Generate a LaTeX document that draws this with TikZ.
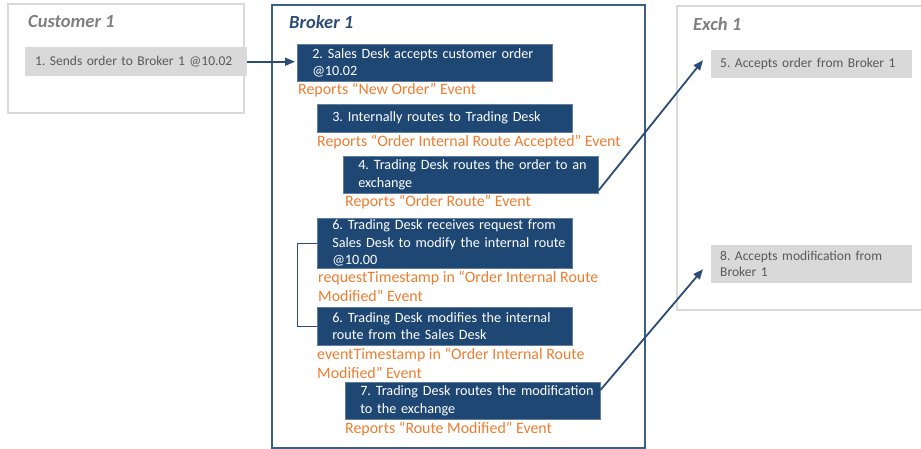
\documentclass[tikz,border=0pt]{standalone}
\usepackage{fontspec}
\setmainfont{Carlito}
\usepackage{tikz}
\usetikzlibrary{arrows.meta,positioning}

\definecolor{navyfill}{RGB}{31,71,115}
\definecolor{navyline}{RGB}{42,76,118}
\definecolor{greyfill}{RGB}{217,217,217}
\definecolor{greytext}{RGB}{89,89,89}
\definecolor{greytitle}{RGB}{127,127,127}
\definecolor{evtorange}{RGB}{237,125,49}

\begin{document}
\begin{tikzpicture}[x=1pt, y=-1pt,
  lane/.style={draw=greyfill, line width=1.5pt},         % outer party boxes
  title/.style={font=\bfseries\itshape\fontsize{18.5}{22}\selectfont,
                anchor=west, inner sep=0pt},
  desk/.style={draw=navyfill!70!white, line width=0.5pt, fill=navyfill,
               text=white, anchor=north west, align=left,
               font=\frenchspacing\fontsize{14.2}{17.5}\selectfont,
               inner xsep=5pt, inner ysep=0pt, text width=245pt,
               execute at begin node={\leftskip=10pt\hyphenpenalty=10000}},
  venue/.style={fill=greyfill, text=greytext, anchor=north west, align=left,
                font=\frenchspacing\fontsize{13.5}{16}\selectfont,
                inner xsep=10pt, inner ysep=0pt},
  event/.style={text=evtorange, anchor=west, align=left, inner sep=0pt,
                font=\frenchspacing\fontsize{15.9}{19}\selectfont},
  link/.style={draw=navyline, line width=1.8pt},
  arrow/.style={link, -{Triangle[length=10pt,width=8pt]}},
]
  \useasboundingbox (0,0) rectangle (921,449);

  % the three parties
  \draw[lane] (8,4) rectangle (244,113);
  \draw[navyline!90!white, line width=2pt] (272,5) rectangle (645,448);
  \draw[lane] (677,6) rectangle (935,310);
  \node[title, text=greytitle] (cust) at (28,22) {Customer 1};
  \node[title, text=navyline] (brok) at (289,22) {Broker 1};
  \node[title, text=greytitle] (exch) at (693,24) {Exch 1};

  % customer
  \node[venue, text width=202pt, minimum height=29pt] (n1) at (25,47)
    {1. Sends order to Broker 1 @10.02};

  % broker
  \node[desk, minimum height=37pt] (n2) at (297,44)
    {2. Sales Desk accepts customer order\\@10.02};
  \node[event] (e2) at (298,90) {Reports “New Order” Event};
  \node[desk, minimum height=28pt] (n3) at (317,104)
    {3. Internally routes to Trading Desk};
  \node[event] (e3) at (317,142) {Reports “Order Internal Route Accepted” Event};
  \node[desk, minimum height=37pt] (n4) at (343,156)
    {4. Trading Desk routes the order to an\\exchange};
  \node[event] (e4) at (345,202) {Reports “Order Route” Event};
  \node[desk, minimum height=50pt] (n6a) at (317,218)
    {6. Trading Desk receives request from\\Sales Desk to modify the internal route\\@10.00};
  \node[event] (e6a) at (318,286.5)
    {requestTimestamp in “Order Internal Route\\Modified” Event};
  \node[desk, minimum height=38pt] (n6b) at (317,307)
    {6. Trading Desk modifies the internal\\route from the Sales Desk};
  \node[event] (e6b) at (317,363.5)
    {eventTimestamp in “Order Internal Route\\Modified” Event};
  \node[desk, minimum height=37pt] (n7) at (345,382)
    {7. Trading Desk routes the modification\\to the exchange};
  \node[event] (e7) at (345,429) {Reports “Route Modified” Event};

  % exchange
  \node[venue, text width=183pt, minimum height=28pt, inner xsep=9pt] (n5) at (711,50)
    {5. Accepts order from Broker 1};
  \node[venue, text width=183pt, minimum height=38pt, inner xsep=9pt] (n8) at (711,245)
    {8. Accepts modification from\\Broker 1};

  % flows
  \draw[arrow, shorten >=2pt] (n1.east) -- (n1.east -| n2.west);
  \draw[link, line width=1pt] (n6a.west) -- ++(-20,0) |- (n6b.west);
  \draw[arrow] ([yshift=3pt]n4.south east) -- ([xshift=-8pt,yshift=4pt]n5.west);
  \draw[arrow] ([yshift=-8pt]n7.north east) -- ([xshift=-8pt,yshift=-5pt]n8.west);
\end{tikzpicture}
\end{document}
